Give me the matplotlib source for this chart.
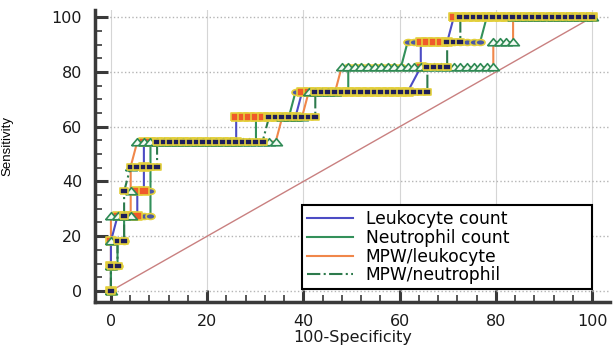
import numpy as np
import matplotlib.pyplot as plt
from matplotlib.path import Path
from matplotlib.transforms import Affine2D

# ROC operating points, run-length encoded: at each sensitivity level
# (number of true positives) the curve holds for false-positive counts
# from start to end. 11 positive and 73 negative cases.
N_POS = 11
N_NEG = 73
tp_levels = [0, 1, 2, 3, 4, 5, 6, 7, 8, 9, 10, 11]

leuk_start = [0, 0, 0, 1, 4, 5, 5, 19, 29, 47, 47, 52]
leuk_end = [0, 0, 0, 4, 5, 5, 19, 28, 45, 47, 51, 73]

neut_start = [0, 0, 1, 2, 6, 6, 6, 22, 28, 36, 45, 57]
neut_end = [0, 1, 2, 6, 6, 6, 22, 27, 36, 44, 56, 73]

mpw_leuk_start = [0, 0, 0, 0, 3, 3, 4, 26, 30, 35, 58, 61]
mpw_leuk_end = [0, 0, 0, 3, 3, 3, 25, 29, 34, 58, 61, 73]

mpw_neut_start = [0, 0, 1, 2, 2, 3, 7, 24, 31, 48, 51, 53]
mpw_neut_end = [0, 1, 2, 2, 2, 7, 23, 31, 48, 51, 53, 73]

labels = ["Leukocyte count", "Neutrophil count", "MPW/leukocyte", "MPW/neutrophil"]
ref_line = [0, 100]


def roc_points(starts, ends):
    fpr, sens = [], []
    for level, a, b in zip(tp_levels, starts, ends):
        for k in range(a, b + 1):
            fpr.append(100.0 * k / N_NEG)
            sens.append(100.0 * level / N_POS)
    return np.array(fpr), np.array(sens)


# marker shapes: flat rectangle, flat triangle, ellipse
rect = [(-1, -0.75), (1, -0.75), (1, 0.75), (-1, 0.75), (-1, -0.75)]
tri = [(-1, -0.55), (1, -0.55), (0, 0.65), (-1, -0.55)]
ellipse = Path.unit_circle().transformed(Affine2D().scale(1.0, 0.65))

yellow = "#e3d03c"
curves = [
    # data, line color, line style, marker, face, edge, size, marker zorder
    (roc_points(mpw_leuk_start, mpw_leuk_end), "#f0874a", "-", tri, "#f4fbf4", "#2f8a55", 8.5, 6),
    (roc_points(leuk_start, leuk_end), "#4c4cc4", "-", rect, "#ef5a2a", yellow, 7, 5),
    (roc_points(neut_start, neut_end), "#33905a", "-", ellipse, "#4b58a6", yellow, 6.5, 4),
    (roc_points(mpw_neut_start, mpw_neut_end), "#2d7a4c", "-.", rect, "#1e1e5a", yellow, 6.2, 7),
]
curve_labels = [labels[2], labels[0], labels[1], labels[3]]

fig = plt.figure(figsize=(6.14, 3.49), dpi=100)
ax = fig.add_axes([0.154, 0.1335, 0.8395, 0.8375])

ax.plot(ref_line, ref_line, color="#c98080", lw=1, zorder=2)

handles = {}
for ((x, y), lc, ls, mk, fc, ec, ms, mz), lab in zip(curves, curve_labels):
    line, = ax.plot(x, y, color=lc, ls=ls, lw=1.5, zorder=3, label=lab)
    handles[lab] = line
    ax.plot(x, y, ls="none", marker=mk, ms=ms, mfc=fc, mec=ec, mew=1.2, zorder=mz)

ax.set_xlim(-3.4, 103.7)
ax.set_ylim(-4.2, 102.6)
ax.set_xticks(np.arange(0, 101, 20))
ax.set_xticks(np.arange(0, 101, 4), minor=True)
ax.set_yticks(np.arange(0, 101, 20))
ax.set_yticks(np.arange(0, 101, 5), minor=True)

for side in ["top", "right"]:
    ax.spines[side].set_visible(False)
for side in ["left", "bottom"]:
    ax.spines[side].set_color("#3a3a3a")
    ax.spines[side].set_linewidth(2.5)

ax.tick_params(which="major", direction="in", length=9, width=2.2,
               color="#3a3a3a", labelsize=11.5, labelcolor="#1a1a1a")
ax.tick_params(which="minor", direction="in", length=5, width=1.2, color="#3a3a3a")
ax.tick_params(axis="y", which="major", pad=9)
ax.tick_params(axis="x", which="major", pad=8)

ax.yaxis.grid(True, which="major", linestyle=":", color="#b5b5b5", lw=1, zorder=0)
ax.xaxis.grid(True, which="major", linestyle="-", color="#d5d5d5", lw=0.8, zorder=0)
ax.set_axisbelow(True)

ax.set_xlabel("100-Specificity", fontsize=11.5, color="#1a1a1a")
ax.xaxis.set_label_coords(0.501, -0.095)
ax.set_ylabel("Sensitivity", fontsize=9.5, family="Liberation Sans", color="black")
ax.yaxis.set_label_coords(-0.158, 0.535)

leg = ax.legend([handles[l] for l in labels], labels,
                loc="upper left", bbox_to_anchor=(0.4025, 0.049, 0.5625, 0.284),
                mode="expand", borderaxespad=0, fontsize=12.3, labelspacing=0.05,
                handlelength=2.7, handletextpad=0.75, borderpad=0.28,
                fancybox=False, framealpha=1)
leg.get_frame().set_edgecolor("black")
leg.get_frame().set_linewidth(1.5)
leg.set_zorder(10)

fig.savefig("out.png", dpi=100)
